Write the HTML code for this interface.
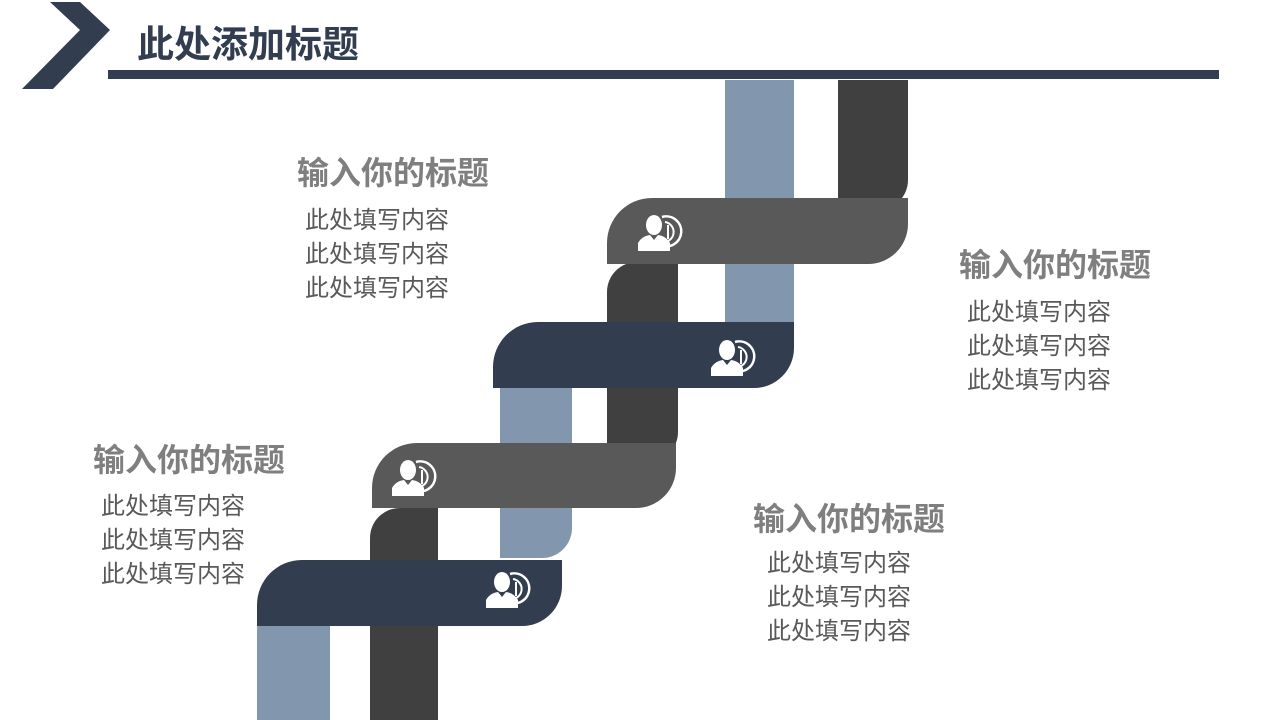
<!DOCTYPE html>
<html><head><meta charset="utf-8"><style>
body{margin:0;width:1280px;height:720px;overflow:hidden;background:#fff;position:relative;font-family:"Liberation Sans","Noto Sans CJK SC",sans-serif}
.b{position:absolute}
.lb{background:#8296ae}.dk{background:#404040}.gy{background:#595959}.nv{background:#333d50}
.t{position:absolute;font-size:32px;font-weight:bold;color:#7f7f7f;white-space:nowrap;line-height:40px}
.p{position:absolute;font-size:24px;color:#595959;line-height:34px;white-space:nowrap}
.ic{position:absolute;width:54px;height:40px}
</style></head><body>
<svg class="b" style="left:0;top:0" width="120" height="95"><polygon points="50,2,80,2,110,30,53,89,22,89,80,30" fill="#323d50"/></svg>
<div class="b" style="left:137px;top:22px;font-size:37px;font-weight:bold;color:#323d50;line-height:46px">此处添加标题</div>
<div class="b nv" style="left:108px;top:70px;width:1111px;height:9px;background:#323d50"></div>

<div class="b lb" style="left:257px;top:600px;width:73px;height:120px;border-radius:30px 0 0 0"></div>
<div class="b dk" style="left:370px;top:508px;width:68px;height:212px;border-radius:30px 0 0 0"></div>
<div class="b lb" style="left:500px;top:370px;width:72px;height:188px;border-radius:0 0 30px 0"></div>
<div class="b dk" style="left:607px;top:262px;width:71px;height:200px;border-radius:30px 0 30px 0"></div>
<div class="b lb" style="left:725px;top:80px;width:69px;height:260px"></div>
<div class="b dk" style="left:838px;top:80px;width:70px;height:130px;border-radius:0 0 30px 0"></div>

<div class="b nv" style="left:257px;top:560px;width:305px;height:66px;border-radius:45px 0 40px 0"></div>
<div class="b gy" style="left:372px;top:443px;width:304px;height:65px;border-radius:45px 0 40px 0"></div>
<div class="b nv" style="left:493px;top:322px;width:301px;height:66px;border-radius:45px 0 40px 0"></div>
<div class="b gy" style="left:607px;top:198px;width:301px;height:66px;border-radius:45px 0 40px 0"></div>

<svg width="0" height="0" style="position:absolute"><defs><g id="i"><path d="M24 6a15 15 0 1 1 -2 28" fill="none" stroke="#fff" stroke-width="2.5"/><path d="M27 11a10 10 0 1 1 -3 20" fill="none" stroke="#fff" stroke-width="2"/><path d="M30 14v14" stroke="#fff" stroke-width="2"/><ellipse cx="16" cy="14" rx="8" ry="10" fill="#fff"/><path d="M0 40v-8q4-7 12-8l4 5 4-5q8 1 12 8v8z" fill="#fff"/></g></defs></svg>
<svg class="ic" style="left:638px;top:211px"><use href="#i"/></svg>
<svg class="ic" style="left:711px;top:336px"><use href="#i"/></svg>
<svg class="ic" style="left:392px;top:456px"><use href="#i"/></svg>
<svg class="ic" style="left:486px;top:568px"><use href="#i"/></svg>

<div class="t" style="left:297px;top:153px">输入你的标题</div>
<div class="p" style="left:305px;top:204px">此处填写内容<br>此处填写内容<br>此处填写内容</div>
<div class="t" style="left:959px;top:245px">输入你的标题</div>
<div class="p" style="left:967px;top:296px">此处填写内容<br>此处填写内容<br>此处填写内容</div>
<div class="t" style="left:93px;top:440px">输入你的标题</div>
<div class="p" style="left:101px;top:490px">此处填写内容<br>此处填写内容<br>此处填写内容</div>
<div class="t" style="left:753px;top:499px">输入你的标题</div>
<div class="p" style="left:767px;top:547px">此处填写内容<br>此处填写内容<br>此处填写内容</div>
</body></html>
